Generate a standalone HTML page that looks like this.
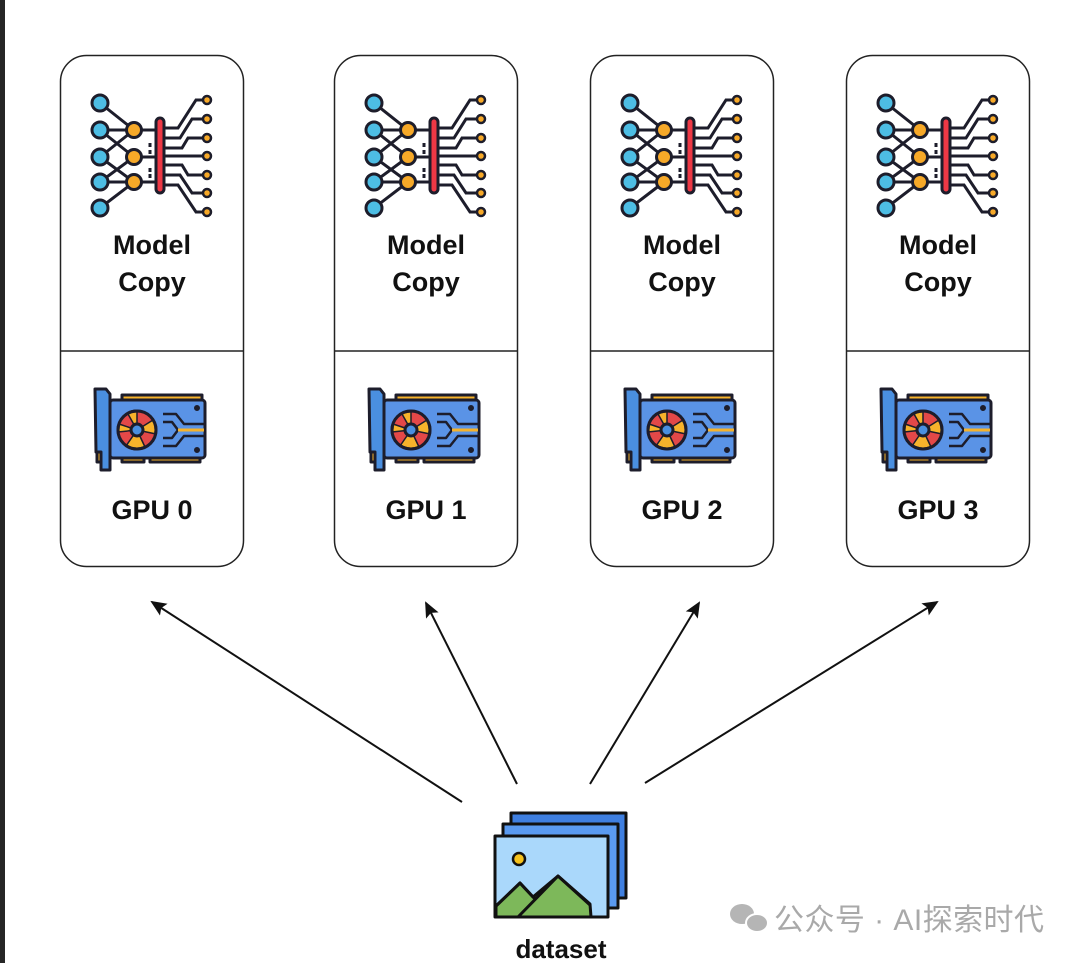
<!DOCTYPE html>
<html><head><meta charset="utf-8"><style>
html,body{margin:0;padding:0;background:#fff;}
body{width:1080px;height:963px;overflow:hidden;position:relative;}
</style></head><body>
<svg width="1080" height="963" viewBox="0 0 1080 963" xmlns="http://www.w3.org/2000/svg" style="position:absolute;left:0;top:0">
<defs>
<g id="net" stroke="#1d1d2b" stroke-width="3" fill="none">
  <path d="M100 103 L134 130 M100 130 L134 130 M100 130 L134 157 M100 157 L134 130 M100 157 L134 182 M100 182 L134 157 M100 182 L134 182 M100 208 L134 182"/>
  <path d="M134 130 L160 130 M134 157 L160 157 M134 182 L160 182"/>
  <path d="M150 143 v4 M150 150 v4 M150 168 v4 M150 174 v4" stroke-width="3"/>
  <path d="M162 128 L178 128 L196 100 L206 100"/>
  <path d="M162 138 L180 138 L192 119 L206 119"/>
  <path d="M162 148 L182 148 L188 138 L206 138"/>
  <path d="M162 156 L206 156"/>
  <path d="M162 165 L182 165 L188 175 L206 175"/>
  <path d="M162 175 L180 175 L192 193 L206 193"/>
  <path d="M162 185 L178 185 L196 212 L206 212"/>
  <g fill="#4dbde4">
    <circle cx="100" cy="103" r="8"/><circle cx="100" cy="130" r="8"/><circle cx="100" cy="157" r="8"/><circle cx="100" cy="182" r="8"/><circle cx="100" cy="208" r="8"/>
  </g>
  <g fill="#f7a928">
    <circle cx="134" cy="130" r="7.5"/><circle cx="134" cy="157" r="7.5"/><circle cx="134" cy="182" r="7.5"/>
  </g>
  <rect x="156" y="118" width="8" height="75" rx="4" fill="#ee3845"/>
  <g fill="#f7a928" stroke-width="2.5">
    <circle cx="207" cy="100" r="4"/><circle cx="207" cy="119" r="4"/><circle cx="207" cy="138" r="4"/><circle cx="207" cy="156" r="4"/><circle cx="207" cy="175" r="4"/><circle cx="207" cy="193" r="4"/><circle cx="207" cy="212" r="4"/>
  </g>
</g>
<g id="gpu" stroke="#1d1d2b" stroke-width="3" stroke-linejoin="round">
  <rect x="122" y="395" width="80" height="6" fill="#f7b32b"/>
  <rect x="122" y="456" width="22" height="6" fill="#f7b32b"/>
  <rect x="150" y="456" width="50" height="6" fill="#f7b32b"/>
  <rect x="97" y="410" width="8" height="18" fill="#e34848"/>
  <rect x="97" y="444" width="8" height="18" fill="#f7b32b"/>
  <path d="M95 389 L106 389 L110 394 L110 470 L101 470 L101 452 L96 452 Z" fill="#4a8fe0"/>
  <rect x="110" y="400" width="95" height="58" rx="3" fill="#5a93e6"/>
  <circle cx="137" cy="430" r="19" fill="#f7b32b"/>
  <path d="M137 430 L137 411 A19 19 0 0 1 153 420 Z M137 430 L156 434 A19 19 0 0 1 145 447 Z M137 430 L126 446 A19 19 0 0 1 118 432 Z M137 430 L119 424 A19 19 0 0 1 128 414 Z" fill="#e34848" stroke-width="1.5"/>
  <circle cx="137" cy="430" r="19" fill="none"/>
  <circle cx="137" cy="430" r="6" fill="#4a8fe0"/>
  <path d="M163 414 L176 414 L184 424 L204 424 M163 446 L176 446 L184 436 L204 436 M163 422 L172 422 L178 430 L172 438 L163 438" fill="none" stroke-width="2.5"/>
  <path d="M178 430 L204 430" stroke="#f7b32b" stroke-width="3"/>
  <circle cx="197" cy="408" r="1.5" fill="#1d1d2b"/><circle cx="197" cy="450" r="1.5" fill="#1d1d2b"/>
</g>
<marker id="ah" markerWidth="16" markerHeight="16" refX="14" refY="8" orient="auto" markerUnits="userSpaceOnUse" viewBox="0 0 16 16">
  <path d="M0 1 L16 8 L0 15 L3 8 Z" fill="#111"/>
</marker>
</defs>
<rect x="0" y="0" width="5" height="963" fill="#262626"/>
<g font-family="Liberation Sans, sans-serif" font-weight="bold" font-size="27" text-anchor="middle" fill="#111">
<g>
  <rect x="60.5" y="55.5" width="183" height="511" rx="26" fill="none" stroke="#222" stroke-width="1.5"/>
  <line x1="60" y1="351" x2="243" y2="351" stroke="#222" stroke-width="1.5"/>
  <use href="#net"/><use href="#gpu"/>
  <text x="152" y="254">Model</text><text x="152" y="291">Copy</text>
  <text x="152" y="519">GPU 0</text>
</g>
<g>
  <rect x="334.5" y="55.5" width="183" height="511" rx="26" fill="none" stroke="#222" stroke-width="1.5"/>
  <line x1="334" y1="351" x2="517" y2="351" stroke="#222" stroke-width="1.5"/>
  <use href="#net" x="274"/><use href="#gpu" x="274"/>
  <text x="426" y="254">Model</text><text x="426" y="291">Copy</text>
  <text x="426" y="519">GPU 1</text>
</g>
<g>
  <rect x="590.5" y="55.5" width="183" height="511" rx="26" fill="none" stroke="#222" stroke-width="1.5"/>
  <line x1="590" y1="351" x2="773" y2="351" stroke="#222" stroke-width="1.5"/>
  <use href="#net" x="530"/><use href="#gpu" x="530"/>
  <text x="682" y="254">Model</text><text x="682" y="291">Copy</text>
  <text x="682" y="519">GPU 2</text>
</g>
<g>
  <rect x="846.5" y="55.5" width="183" height="511" rx="26" fill="none" stroke="#222" stroke-width="1.5"/>
  <line x1="846" y1="351" x2="1029" y2="351" stroke="#222" stroke-width="1.5"/>
  <use href="#net" x="786"/><use href="#gpu" x="786"/>
  <text x="938" y="254">Model</text><text x="938" y="291">Copy</text>
  <text x="938" y="519">GPU 3</text>
</g>
<text x="561" y="958" font-size="26">dataset</text>
</g>
<g stroke="#111" stroke-width="2" marker-end="url(#ah)">
  <line x1="462" y1="802" x2="152" y2="602"/>
  <line x1="517" y1="784" x2="426" y2="603"/>
  <line x1="590" y1="784" x2="699" y2="603"/>
  <line x1="645" y1="783" x2="937" y2="602"/>
</g>
<g stroke="#111" stroke-width="3" stroke-linejoin="round">
  <rect x="511" y="813" width="115" height="85" fill="#3f7fe0"/>
  <rect x="503" y="824" width="115" height="84" fill="#5a9af0"/>
  <rect x="495" y="836" width="113" height="81" fill="#aad8fb"/>
  <path d="M496 906 L520 883 L533 897 L558 876 L590 904 L591 917 L496 917 Z" fill="#7db85a"/>
  <path d="M496 906 L520 883 L535 899 M518 917 L558 876 L590 905" fill="none"/>
  <circle cx="519" cy="859" r="6" fill="#f7c21b" stroke-width="2.5"/>
</g>
<g fill="#b5b5b5">
  <ellipse cx="742" cy="914" rx="12" ry="10"/>
  <ellipse cx="757" cy="923" rx="11" ry="9" stroke="#fff" stroke-width="2"/>
</g>
<text x="774" y="930" font-family="Liberation Sans, 'Noto Sans CJK SC', sans-serif" font-size="30" fill="#a9a9a9" textLength="270">公众号 · AI探索时代</text>
</svg>
</body></html>
